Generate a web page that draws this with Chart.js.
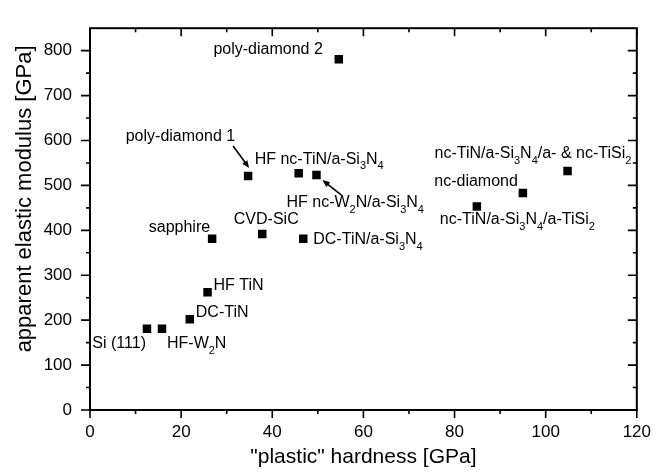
<!DOCTYPE html>
<html>
<head>
<meta charset="utf-8">
<script src="https://cdn.jsdelivr.net/npm/chart.js@4.4.1/dist/chart.umd.min.js"></script>
<style>
  html, body { margin: 0; padding: 0; background: #fff; }
  #wrap { width: 663px; height: 473px; }
</style>
</head>
<body>
<div id="wrap"><canvas id="c"></canvas></div>
<script>
// materials (use _x for a subscript character)
const materials = [
  "Si (111)", "HF-W_2N", "DC-TiN", "HF TiN", "sapphire", "CVD-SiC",
  "poly-diamond 1", "HF nc-TiN/a-Si_3N_4", "DC-TiN/a-Si_3N_4",
  "HF nc-W_2N/a-Si_3N_4", "poly-diamond 2", "nc-TiN/a-Si_3N_4/a-TiSi_2",
  "nc-diamond", "nc-TiN/a-Si_3N_4/a- & nc-TiSi_2"
];
const hardness = [12.5, 15.8, 21.9, 25.8, 26.8, 37.8, 34.7, 45.8, 46.8, 49.7, 54.6, 84.9, 95, 104.8];
const modulus  = [181, 181, 202, 262, 381, 392, 521, 527, 381, 523, 781, 453, 483, 532];

const xTickLabels = [0, 20, 40, 60, 80, 100, 120];
const yTickLabels = [0, 100, 200, 300, 400, 500, 600, 700, 800];

// label placement relative to the marker (pixels)
const labelPlacement = [
  { dx: -1, dy: 15, align: "right" },
  { dx: 5, dy: 15, align: "left" },
  { dx: 6, dy: -7, align: "left" },
  { dx: 6, dy: -7, align: "left" },
  { dx: -2, dy: -11, align: "right" },
  { dx: 4, dy: -14, align: "center" },
  { dx: -13, dy: -39, align: "right", arrow: [-15, -30, 1, -8] },
  { dx: -44, dy: -14, align: "left" },
  { dx: 10, dy: 1, align: "left" },
  { dx: -30, dy: 28, align: "left", arrow: [25, 20, 6, 5] },
  { dx: -16, dy: -10, align: "right" },
  { dx: -37, dy: 13, align: "left" },
  { dx: -5, dy: -11, align: "right" },
  { dx: -133, dy: -17, align: "left" }
];

const FONT = "'Liberation Sans', Arial, Helvetica, sans-serif";

function parseRich(text) {
  const parts = [];
  let buf = "";
  for (let i = 0; i < text.length; i++) {
    if (text[i] === "_" && i + 1 < text.length) {
      if (buf) parts.push({ t: buf, sub: false });
      buf = "";
      parts.push({ t: text[i + 1], sub: true });
      i++;
    } else buf += text[i];
  }
  if (buf) parts.push({ t: buf, sub: false });
  return parts;
}

function drawRich(ctx, text, x, y, align) {
  const parts = parseRich(text);
  const mainFont = "16px " + FONT;
  const subFont = "11px " + FONT;
  let w = 0;
  parts.forEach(p => {
    ctx.font = p.sub ? subFont : mainFont;
    p.w = ctx.measureText(p.t).width;
    w += p.w;
  });
  let cx = align === "right" ? x - w : align === "center" ? x - w / 2 : x;
  ctx.textBaseline = "middle";
  ctx.textAlign = "left";
  parts.forEach(p => {
    ctx.font = p.sub ? subFont : mainFont;
    ctx.fillText(p.t, cx, p.sub ? y + 7 : y);
    cx += p.w;
  });
}

function drawArrow(ctx, x1, y1, x2, y2) {
  const ang = Math.atan2(y2 - y1, x2 - x1);
  const head = 8;
  ctx.lineWidth = 1.6;
  ctx.beginPath();
  ctx.moveTo(x1, y1);
  ctx.lineTo(x2 - Math.cos(ang) * head * 0.8, y2 - Math.sin(ang) * head * 0.8);
  ctx.stroke();
  ctx.beginPath();
  ctx.moveTo(x2, y2);
  ctx.lineTo(x2 - head * Math.cos(ang - 0.4), y2 - head * Math.sin(ang - 0.4));
  ctx.lineTo(x2 - head * Math.cos(ang + 0.4), y2 - head * Math.sin(ang + 0.4));
  ctx.closePath();
  ctx.fill();
}

const pointLabels = {
  id: "pointLabels",
  afterDatasetsDraw(chart) {
    const ctx = chart.ctx;
    const meta = chart.getDatasetMeta(0);
    ctx.save();
    ctx.fillStyle = "#000";
    ctx.strokeStyle = "#000";
    meta.data.forEach((pt, i) => {
      const p = labelPlacement[i];
      drawRich(ctx, materials[i], pt.x + p.dx, pt.y + p.dy, p.align);
      if (p.arrow) {
        const a = p.arrow;
        drawArrow(ctx, pt.x + a[0], pt.y + a[1], pt.x + a[2], pt.y + a[3]);
      }
    });
    ctx.restore();
  }
};

// frame with major/minor ticks on all four sides, plus the y title
const frame = {
  id: "frame",
  afterDraw(chart) {
    const ctx = chart.ctx;
    const { left, right, top, bottom } = chart.chartArea;
    const xs = chart.scales.x, ys = chart.scales.y;
    ctx.save();
    ctx.strokeStyle = "#000";
    ctx.lineWidth = 2;
    ctx.strokeRect(left, top, right - left, bottom - top);
    ctx.lineWidth = 1.6;
    ctx.beginPath();
    for (let v = 0; v <= 120; v += 10) {
      const px = xs.getPixelForValue(v);
      const len = v % 20 === 0 ? 8 : 4;
      ctx.moveTo(px, bottom); ctx.lineTo(px, bottom + len);
      ctx.moveTo(px, top); ctx.lineTo(px, top + len);
    }
    for (let v = 0; v <= 800; v += 50) {
      const py = ys.getPixelForValue(v);
      const len = v % 100 === 0 ? 9 : 4;
      ctx.moveTo(left, py); ctx.lineTo(left - len, py);
      ctx.moveTo(right, py); ctx.lineTo(right - len, py);
    }
    ctx.stroke();

    // y axis title, sitting a little above the plot centre like the original
    ctx.translate(25, ys.getPixelForValue(470));
    ctx.rotate(-Math.PI / 2);
    ctx.fillStyle = "#000";
    ctx.font = "22px " + FONT;
    ctx.textAlign = "center";
    ctx.textBaseline = "middle";
    ctx.fillText("apparent elastic modulus [GPa]", 0, 0);
    ctx.restore();
  }
};

new Chart(document.getElementById("c"), {
  type: "scatter",
  data: {
    datasets: [{
      data: hardness.map((h, i) => ({ x: h, y: modulus[i] })),
      pointStyle: "rect",
      pointRadius: 6,
      pointHoverRadius: 6,
      backgroundColor: "#000",
      borderWidth: 0
    }]
  },
  options: {
    responsive: true,
    maintainAspectRatio: false,
    animation: false,
    events: [],
    layout: { padding: { left: 0, right: 26, top: 11, bottom: 0 } },
    plugins: { legend: { display: false }, tooltip: { enabled: false } },
    scales: {
      x: {
        type: "linear",
        min: 0, max: 120,
        afterBuildTicks: s => { s.ticks = xTickLabels.map(v => ({ value: v })); },
        afterFit: s => { s.height = 63; },
        grid: { display: false, drawTicks: false },
        border: { display: false },
        ticks: { color: "#000", padding: 12, font: { family: FONT, size: 17 }, maxRotation: 0 },
        title: {
          display: true, text: '"plastic" hardness [GPa]', color: "#000",
          font: { family: FONT, size: 21 }, padding: { top: 0, bottom: 3 }
        }
      },
      y: {
        type: "linear",
        min: 0, max: 850,
        afterBuildTicks: s => { s.ticks = yTickLabels.map(v => ({ value: v })); },
        afterFit: s => { s.width = 90; },
        grid: { display: false, drawTicks: false },
        border: { display: false },
        ticks: { color: "#000", padding: 18, font: { family: FONT, size: 17 } },
        title: { display: false }
      }
    }
  },
  plugins: [pointLabels, frame]
});
</script>
</body>
</html>
